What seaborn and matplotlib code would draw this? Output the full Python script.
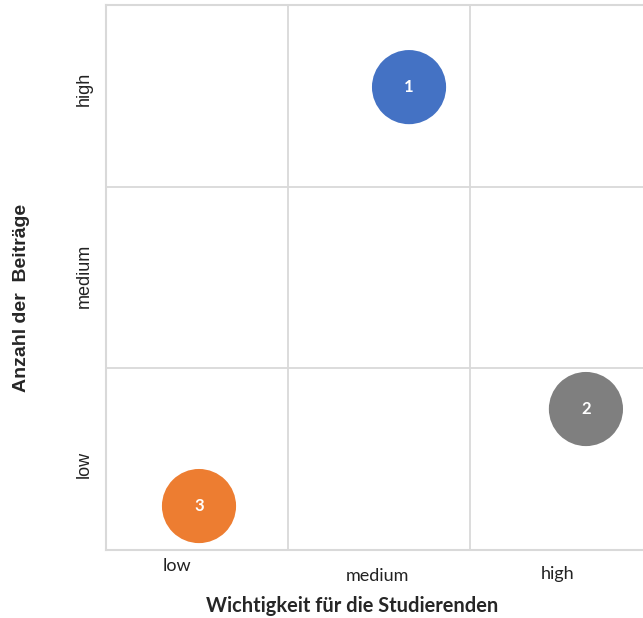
import matplotlib
matplotlib.use("Agg")
import matplotlib.pyplot as plt
import seaborn as sns
import pandas as pd

# Bubble data: position on the two 3-level scales (cell units, 0..3)
labels = ["1", "2", "3"]
importance = [1.665, 2.637, 0.511]
contributions = [2.548, 0.776, 0.242]
colors = ["#4472C4", "#7F7F7F", "#ED7D31"]

# Category labels and where they sit along each axis
x_levels = ["low", "medium", "high"]
x_level_pos = [0.39, 1.49, 2.48]
x_level_drop = [0.09, 0.145, 0.13]
y_levels = ["low", "medium", "high"]
y_level_pos = [0.47, 1.51, 2.54]

df = pd.DataFrame({"label": labels, "x": importance, "y": contributions})

sns.set_style("white")
fig = plt.figure(figsize=(6.43, 6.18), dpi=100)
ax = fig.add_axes([106 / 643, 68 / 618, 537 / 643, 545 / 618])

grid_c = "#D9D9D9"
for v in (1, 2):
    ax.axvline(v, color=grid_c, lw=1.3, zorder=0)
    ax.axhline(v, color=grid_c, lw=1.3, zorder=0)

sns.scatterplot(data=df, x="x", y="y", hue="label", palette=colors,
                s=2850, edgecolor="none", legend=False, ax=ax, zorder=3)
for _, r in df.iterrows():
    ax.text(r.x, r.y, r.label, color="white", fontsize=12, fontweight="bold",
            family="Lato", ha="center", va="center", zorder=4)

ax.set_xlim(0, 537 / 182)
ax.set_ylim(0, 3)
ax.set_xticks([])
ax.set_yticks([])
ax.set_xlabel("")
ax.set_ylabel("")
for side in ("left", "top", "bottom"):
    ax.spines[side].set_color(grid_c)
    ax.spines[side].set_linewidth(1.5)
ax.spines["right"].set_visible(False)

for t, p, d in zip(x_levels, x_level_pos, x_level_drop):
    ax.text(p, -d, t, transform=ax.transData, fontsize=13, family="Lato",
            ha="center", va="center", color="#222222", clip_on=False)
for t, p in zip(y_levels, y_level_pos):
    ax.text(-0.12, p, t, rotation=90, fontsize=13, family="Liberation Sans",
            ha="center", va="center", color="#222222", clip_on=False)

fig.text(352 / 643, 1 - 606 / 618, "Wichtigkeit für die Studierenden",
         fontsize=14.4, fontweight="bold", family="Lato", ha="center", va="center")
fig.text(22 / 643, 1 - 298 / 618, "Anzahl der  Beiträge", rotation=90,
         fontsize=14, fontweight="bold", family="Liberation Sans",
         ha="center", va="center")

fig.savefig("out.png", dpi=100)
